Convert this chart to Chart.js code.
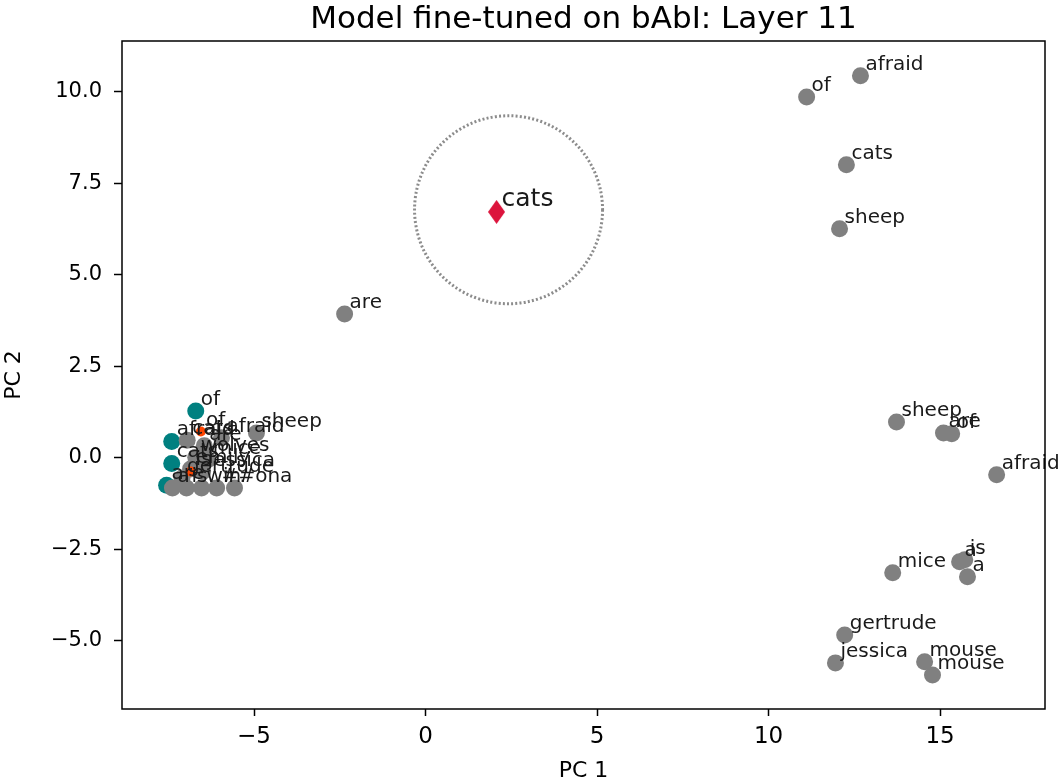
<!DOCTYPE html>
<html>
<head>
<meta charset="utf-8">
<script src="https://cdn.jsdelivr.net/npm/chart.js@4/dist/chart.umd.min.js"></script>
<style>
  html, body { margin: 0; padding: 0; background: #fff; }
  #wrap { width: 1062px; height: 784px; }
</style>
</head>
<body>
<div id="wrap"><canvas id="chart" width="1062" height="784"></canvas></div>
<script>
// Gray token points (other sentences)
const grayX = [11.11, 12.68, 12.27, 12.07, -2.36, 13.73, 15.10, 15.34, 16.65, 13.62, 15.57, 15.72, 15.80, 12.22, 11.95, 14.55, 14.78,
               -4.93, -5.95, -6.45, -6.95, -6.70, -6.35, -6.85, -6.50, -7.10, -7.38, -6.97, -6.53, -6.09, -5.57];
const grayY = [9.86, 10.44, 8.01, 6.26, 3.93, 0.98, 0.68, 0.66, -0.46, -3.14, -2.84, -2.78, -3.25, -4.84, -5.60, -5.57, -5.93,
               0.68, 0.55, 0.33, 0.48, 0.02, -0.05, -0.30, -0.38, -0.55, -0.82, -0.82, -0.82, -0.82, -0.82];
const grayWords = ['of', 'afraid', 'cats', 'sheep', 'are', 'sheep', 'are', 'of', 'afraid', 'mice', 'a', 'is', 'a', 'gertrude', 'jessica', 'mouse', 'mouse',
                   'sheep', 'afraid', 'are', 'cats', 'wolves', 'mice', 'emily', 'jessica', 'gertrude', 'a', 'is', 'win', '##ona', '.'];

// Teal token points
const tealX = [-6.70, -7.40, -7.40, -7.55];
const tealY = [1.28, 0.45, -0.15, -0.75];
const tealWords = ['of', 'afraid', 'cats', 'are'];

// Orange-red token points
const orangeX = [-6.55, -6.85];
const orangeY = [0.72, -0.37];
const orangeWords = ['of', 'is'];

// Query token
const queryX = [2.07];
const queryY = [6.72];
const queryWords = ['cats'];

// Dotted circle around the query
const circleX = 2.42;
const circleY = 6.78;

const xTicks = [-5, 0, 5, 10, 15];
const yTicks = [-5, -2.5, 0, 2.5, 5, 7.5, 10];

const titleText = 'Model fine-tuned on bAbI: Layer 11';

const toPoints = (xs, ys) => xs.map((x, i) => ({ x: x, y: ys[i] }));
const minus = s => s.replace('-', '\u2212');

// thin diamond marker like matplotlib 'd'
const diamond = document.createElement('canvas');
diamond.width = 17;
diamond.height = 24;
(() => {
    const c = diamond.getContext('2d');
    c.fillStyle = '#dc143c';
    c.beginPath();
    c.moveTo(8.5, 0);
    c.lineTo(17, 12);
    c.lineTo(8.5, 24);
    c.lineTo(0, 12);
    c.closePath();
    c.fill();
})();

const wordLabels = {
    id: 'wordLabels',
    afterDatasetsDraw(chart) {
        const ctx = chart.ctx;
        ctx.save();
        ctx.textAlign = 'left';
        ctx.textBaseline = 'alphabetic';
        chart.data.datasets.forEach((ds, di) => {
            const meta = chart.getDatasetMeta(di);
            if (!ds.words) return;
            ctx.font = ds.labelSize + 'px "DejaVu Sans"';
            ctx.fillStyle = '#1a1a1a';
            meta.data.forEach((pt, i) => {
                ctx.fillText(ds.words[i], pt.x + 5, pt.y - 6);
            });
        });
        ctx.restore();
    }
};

const frameAndCircle = {
    id: 'frameAndCircle',
    afterDraw(chart) {
        const { ctx, chartArea: a, scales } = chart;
        ctx.save();
        // dotted circle
        ctx.strokeStyle = '#8c8c8c';
        ctx.lineWidth = 3;
        ctx.setLineDash([2, 2.2]);
        ctx.beginPath();
        ctx.arc(scales.x.getPixelForValue(circleX), scales.y.getPixelForValue(circleY), 94, 0, Math.PI * 2);
        ctx.stroke();
        // axes frame
        ctx.setLineDash([]);
        ctx.strokeStyle = '#000';
        ctx.lineWidth = 1.5;
        ctx.strokeRect(a.left, a.top, a.right - a.left, a.bottom - a.top);
        // title centred over the plot area
        ctx.fillStyle = '#000';
        ctx.font = '31px "DejaVu Sans"';
        ctx.textAlign = 'center';
        ctx.textBaseline = 'alphabetic';
        ctx.fillText(titleText, (a.left + a.right) / 2, 28);
        ctx.restore();
    }
};

new Chart(document.getElementById('chart'), {
    type: 'scatter',
    data: {
        datasets: [
            {
                data: toPoints(queryX, queryY), words: queryWords, labelSize: 25,
                pointStyle: diamond, order: 0
            },
            {
                data: toPoints(orangeX, orangeY), words: orangeWords, labelSize: 20,
                backgroundColor: '#ff4500', borderWidth: 0, pointRadius: 5, order: 1
            },
            {
                data: toPoints(grayX, grayY), words: grayWords, labelSize: 20,
                backgroundColor: '#808080', borderWidth: 0, pointRadius: 8.5, order: 2
            },
            {
                data: toPoints(tealX, tealY), words: tealWords, labelSize: 20,
                backgroundColor: '#008080', borderWidth: 0, pointRadius: 8.5, order: 3
            }
        ]
    },
    options: {
        responsive: false,
        animation: false,
        events: [],
        layout: { padding: { left: 0, right: 17, top: 41, bottom: 0 } },
        plugins: {
            legend: { display: false },
            tooltip: { enabled: false },
            title: { display: false }
        },
        scales: {
            x: {
                type: 'linear',
                min: -8.85,
                max: 18.06,
                afterFit(s) { s.height = 75; },
                afterBuildTicks(s) { s.ticks = xTicks.map(v => ({ value: v })); },
                border: { display: false },
                grid: { drawOnChartArea: false, drawTicks: true, tickLength: 7, tickColor: '#000', tickWidth: 1.5 },
                ticks: {
                    color: '#000', font: { family: 'DejaVu Sans', size: 23 }, padding: 7, maxRotation: 0,
                    callback: v => minus(String(v))
                },
                title: {
                    display: true, text: 'PC 1', color: '#000',
                    font: { family: 'DejaVu Sans', size: 22 },
                    padding: { top: 0, bottom: 0 }
                }
            },
            y: {
                type: 'linear',
                min: -6.86,
                max: 11.39,
                afterFit(s) { s.width = 122; },
                afterBuildTicks(s) { s.ticks = yTicks.map(v => ({ value: v })); },
                border: { display: false },
                grid: { drawOnChartArea: false, drawTicks: true, tickLength: 8, tickColor: '#000', tickWidth: 1.5 },
                ticks: {
                    color: '#000', font: { family: 'DejaVu Sans', size: 21 }, padding: 12,
                    callback: v => minus(v.toFixed(1))
                },
                title: {
                    display: true, text: 'PC 2', color: '#000',
                    font: { family: 'DejaVu Sans', size: 22 },
                    padding: { top: 1, bottom: 0 }
                }
            }
        }
    },
    plugins: [wordLabels, frameAndCircle]
});
</script>
</body>
</html>
